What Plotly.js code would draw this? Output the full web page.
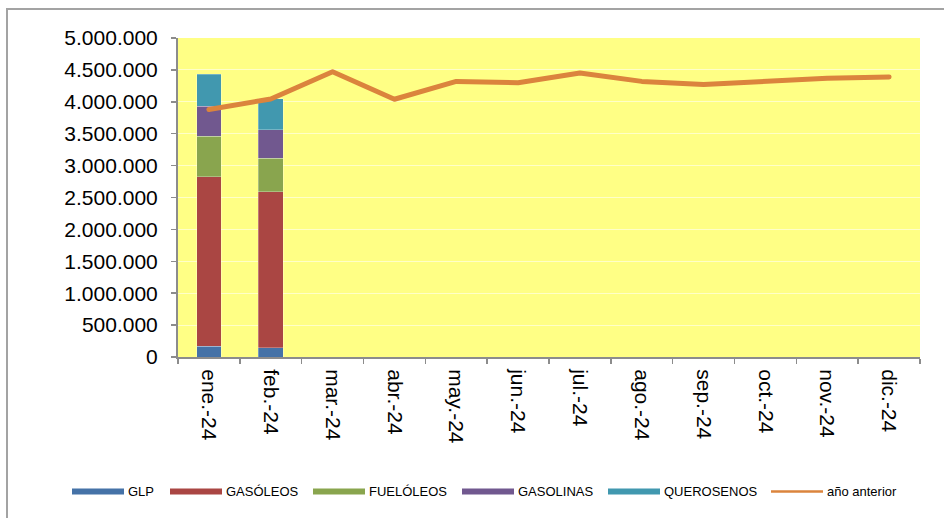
<!DOCTYPE html>
<html>
<head>
<meta charset="utf-8">
<script src="https://cdn.plot.ly/plotly-3.0.1.min.js"></script>
<style>
  html, body { margin: 0; padding: 0; background: #ffffff; overflow: hidden; }
  #frame { position: absolute; left: 6px; top: 8px; width: 2000px; height: 2000px;
           border-top: 2px solid #a3a3a3; border-left: 2px solid #a3a3a3; }
  #chart { position: absolute; left: 0; top: 0; width: 944px; height: 518px; }
  .scatterlayer path.js-line { stroke-linecap: round; stroke-linejoin: round; }
</style>
</head>
<body>
<div id="frame"></div>
<div id="chart"></div>
<script>
// ---- data ----
const months = ["ene.-24", "feb.-24", "mar.-24", "abr.-24", "may.-24", "jun.-24",
                "jul.-24", "ago.-24", "sep.-24", "oct.-24", "nov.-24", "dic.-24"];
const glp        = [167000, 146000];
const gasoleos   = [2656000, 2443000];
const fueloleos  = [641000, 526000];
const gasolinas  = [469000, 448000];
const querosenos = [500000, 484000];
const anioAnterior = [3880000, 4045000, 4470000, 4040000, 4320000, 4300000,
                      4450000, 4320000, 4270000, 4315000, 4370000, 4390000];
const yTicks = [0, 500000, 1000000, 1500000, 2000000, 2500000, 3000000,
                3500000, 4000000, 4500000, 5000000];

// ---- styles ----
const seriesNames  = ["GLP", "GASÓLEOS", "FUELÓLEOS", "GASOLINAS", "QUEROSENOS"];
const seriesValues = [glp, gasoleos, fueloleos, gasolinas, querosenos];
const seriesColors = ["#4572A7", "#AA4643", "#89A54E", "#71588F", "#4198AF"];
const lineName = "año anterior";
const lineColor = "#DB843D";
const FONT = "Liberation Sans, Arial, sans-serif";

const W = 944, H = 518;
const M = { l: 178, r: 24, t: 38, b: 161 };
const pw = W - M.l - M.r, ph = H - M.t - M.b;
const px2x = p => (p - M.l) / pw;
const px2y = p => (H - M.b - p) / ph;

const traces = seriesNames.map((n, i) => ({
  type: "bar",
  name: n,
  x: months.slice(0, seriesValues[i].length),
  y: seriesValues[i],
  marker: { color: seriesColors[i], line: { color: "rgba(255,255,255,0.35)", width: 0.8 } },
  showlegend: false,
  hoverinfo: "x+y+name"
}));
traces.push({
  type: "scatter",
  mode: "lines",
  name: lineName,
  x: months,
  y: anioAnterior,
  line: { color: lineColor, width: 5 },
  showlegend: false
});

// ---- custom legend (wide flat swatches) ----
const legendSwatchX = [72, 170, 313, 462, 608];
const legendY = 491.5;
const shapes = [];
const annotations = [];
seriesNames.forEach((n, i) => {
  const x0 = legendSwatchX[i];
  shapes.push({
    type: "rect", xref: "paper", yref: "paper",
    x0: px2x(x0), x1: px2x(x0 + 52),
    y0: px2y(legendY + 3), y1: px2y(legendY - 3),
    fillcolor: seriesColors[i], line: { width: 0 }
  });
  annotations.push({
    xref: "paper", yref: "paper", x: px2x(x0 + 54), y: px2y(legendY),
    xanchor: "left", yanchor: "middle", showarrow: false, text: n,
    font: { family: FONT, size: 13, color: "#000" }
  });
});
shapes.push({
  type: "line", xref: "paper", yref: "paper",
  x0: px2x(771), x1: px2x(823), y0: px2y(legendY), y1: px2y(legendY),
  line: { color: lineColor, width: 2.5 }
});
annotations.push({
  xref: "paper", yref: "paper", x: px2x(825), y: px2y(legendY),
  xanchor: "left", yanchor: "middle", showarrow: false, text: lineName,
  font: { family: FONT, size: 13, color: "#000" }
});

const layout = {
  width: W, height: H,
  margin: M,
  paper_bgcolor: "rgba(0,0,0,0)",
  plot_bgcolor: "#FFFF85",
  barmode: "stack",
  bargap: 0.6,
  separators: ",.",
  font: { family: FONT, size: 21, color: "#000" },
  showlegend: false,
  xaxis: {
    type: "category",
    categoryorder: "array", categoryarray: months,
    range: [-0.5, 11.5],
    tickangle: 90,
    ticks: "outside", ticklen: 5, tickcolor: "#8c8c8c", tickwidth: 1.5,
    tickson: "boundaries",
    showline: true, linecolor: "#8c8c8c", linewidth: 2,
    showgrid: false,
    tickfont: { family: FONT, size: 21, color: "#000" },
    ticklabelstandoff: 6,
    fixedrange: true
  },
  yaxis: {
    range: [0, 5000000],
    tickmode: "array", tickvals: yTicks,
    tickformat: ",d",
    ticks: "outside", ticklen: 5, tickcolor: "#8c8c8c", tickwidth: 1.5,
    showline: true, linecolor: "#8c8c8c", linewidth: 2,
    showgrid: true, gridcolor: "rgba(255,255,255,0.55)", gridwidth: 1,
    zeroline: false,
    tickfont: { family: FONT, size: 21, color: "#000" },
    ticklabelstandoff: 9,
    fixedrange: true
  },
  shapes: shapes,
  annotations: annotations
};

Plotly.newPlot("chart", traces, layout, { displayModeBar: false, staticPlot: true });
</script>
</body>
</html>
